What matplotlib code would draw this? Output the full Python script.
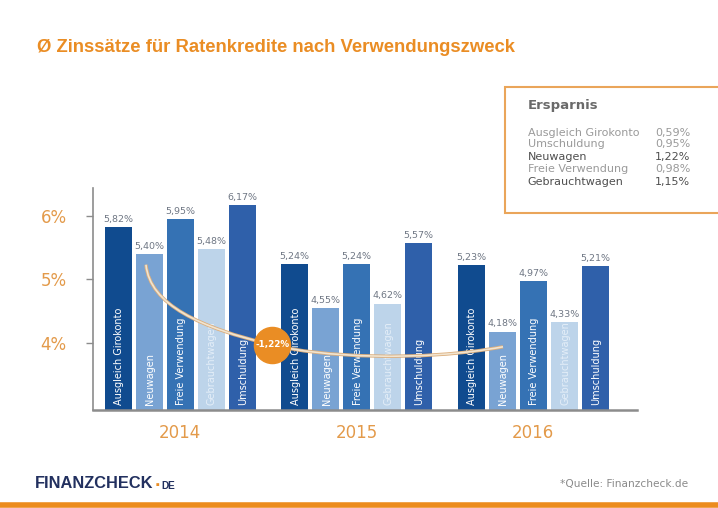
import matplotlib.pyplot as plt
import matplotlib.patches as mpatches
import matplotlib.patheffects as pe
from matplotlib.path import Path
import numpy as np

# data
years = ['2014', '2015', '2016']
purposes = ['Ausgleich Girokonto', 'Neuwagen', 'Freie Verwendung', 'Gebrauchtwagen', 'Umschuldung']
rates = {
    'Ausgleich Girokonto': [5.82, 5.24, 5.23],
    'Neuwagen': [5.40, 4.55, 4.18],
    'Freie Verwendung': [5.95, 5.24, 4.97],
    'Gebrauchtwagen': [5.48, 4.62, 4.33],
    'Umschuldung': [6.17, 5.57, 5.21],
}
savings_labels = ['Ausgleich Girokonto', 'Umschuldung', 'Neuwagen', 'Freie Verwendung', 'Gebrauchtwagen']
savings_values = ['0,59%', '0,95%', '1,22%', '0,98%', '1,15%']
savings_bold = [False, False, True, False, True]
highlight = '-1,22%'

bar_colors = ['#104b8f', '#79a3d3', '#3572b4', '#bdd4ea', '#2f60aa']
label_colors = ['white', 'white', 'white', '#e4eef8', 'white']
orange = '#ea8d24'
gray_txt = '#6f7784'

fig = plt.figure(figsize=(7.18, 5.08), dpi=100)
ax = fig.add_axes([0.1295, 0.193, 0.7575, 0.437])

group_gap = 5.7
width = 0.87
ymin = 2.947
for i, p in enumerate(purposes):
    xs = np.arange(len(years)) * group_gap + i
    vals = np.array(rates[p])
    ax.bar(xs, vals - ymin, bottom=ymin, width=width, color=bar_colors[i], zorder=2)
    for x, v in zip(xs, vals):
        ax.text(x, v + 0.05, f'{v:.2f}%'.replace('.', ','), ha='center', va='bottom',
                fontsize=6.8, color=gray_txt)
        ax.text(x + 0.03, ymin + 0.08, p, rotation=90, ha='center', va='bottom',
                fontsize=7, color=label_colors[i], zorder=3)

# savings curve (Neuwagen 2014 -> 2016)
verts = [(0.90, 5.23), (1.03, 4.60), (2.65, 4.24), (4.97, 3.97),
         (6.52, 3.78), (9.74, 3.70), (12.42, 3.94)]
codes = [Path.MOVETO] + [Path.CURVE4] * 6
curve = mpatches.PathPatch(Path(verts, codes), fill=False, edgecolor='#f1e4d0', lw=1.2, zorder=4,
                           path_effects=[pe.Stroke(linewidth=2.4, foreground='#dcae7c'), pe.Normal()])
ax.add_patch(curve)
ax.plot([4.97], [3.97], 'o', ms=26, color=orange, mec=orange, zorder=5)
ax.text(4.97, 3.97, highlight, ha='center', va='center', fontsize=6.3, color='white',
        fontweight='bold', zorder=6)

ax.set_xlim(-0.81, 16.74)
ax.set_ylim(ymin, 6.437)
ax.set_yticks([4, 5, 6])
ax.set_yticklabels(['4%', '5%', '6%'], color='#e39a4a', fontsize=12)
ax.tick_params(axis='y', length=5, width=1, color='#8c8c8c', pad=14)
ax.set_xticks(np.arange(len(years)) * group_gap + 2)
ax.set_xticklabels(years, color='#e39a4a', fontsize=12)
ax.tick_params(axis='x', length=0, pad=10)
for s in ['top', 'right']:
    ax.spines[s].set_visible(False)
ax.spines['left'].set_color('#8c8c8c')
ax.spines['left'].set_linewidth(1.2)
ax.spines['bottom'].set_color('#8c8c8c')
ax.spines['bottom'].set_linewidth(1.8)

# title
fig.text(0.0515, 0.907, 'Ø Zinssätze für Ratenkredite nach Verwendungszweck',
         family='Liberation Sans', fontweight='bold',
         fontsize=13.3, color=orange, va='center', ha='left')

# savings box
box = mpatches.Rectangle((0.703, 0.581), 0.32, 0.248, transform=fig.transFigure,
                         facecolor='white', edgecolor='#eaa55a', lw=1.5, clip_on=False)
fig.patches.append(box)
fig.text(0.735, 0.793, 'Ersparnis', fontsize=9.5, color='#6a6a6a', fontweight='semibold',
         va='center')
row_y = [0.739, 0.716, 0.691, 0.667, 0.642]
for lab, val, b, yy in zip(savings_labels, savings_values, savings_bold, row_y):
    c = '#4f4f4f' if b else '#9a9a9a'
    w = 'medium' if b else 'normal'
    fig.text(0.735, yy, lab, fontsize=8, color=c, fontweight=w, va='center')
    fig.text(0.912, yy, val, fontsize=8, color=c, fontweight=w, va='center')

# footer
fig.add_artist(plt.Line2D([0, 1], [0.006, 0.006], transform=fig.transFigure,
                          color='#ec8c1e', lw=4))
logo = fig.text(0.049, 0.049, 'FINANZCHECK', family='Liberation Sans',
                fontweight='bold', fontsize=11.8, color='#22305f', va='center')
fig.canvas.draw()
bb = logo.get_window_extent().transformed(fig.transFigure.inverted())
dot = fig.text(bb.x1 + 0.002, 0.043, '.', fontsize=14, fontweight='bold', color=orange,
               va='baseline', family='Liberation Sans')
fig.canvas.draw()
bb2 = dot.get_window_extent().transformed(fig.transFigure.inverted())
fig.text(bb2.x1 + 0.001, 0.037, 'DE', family='Liberation Sans',
         fontsize=7.2, fontweight='bold', color='#22305f', va='baseline')
fig.text(0.958, 0.047, '*Quelle: Finanzcheck.de', fontsize=7.6, color='#8a8a8a',
         ha='right', va='center')

fig.savefig('out.png', dpi=100)
